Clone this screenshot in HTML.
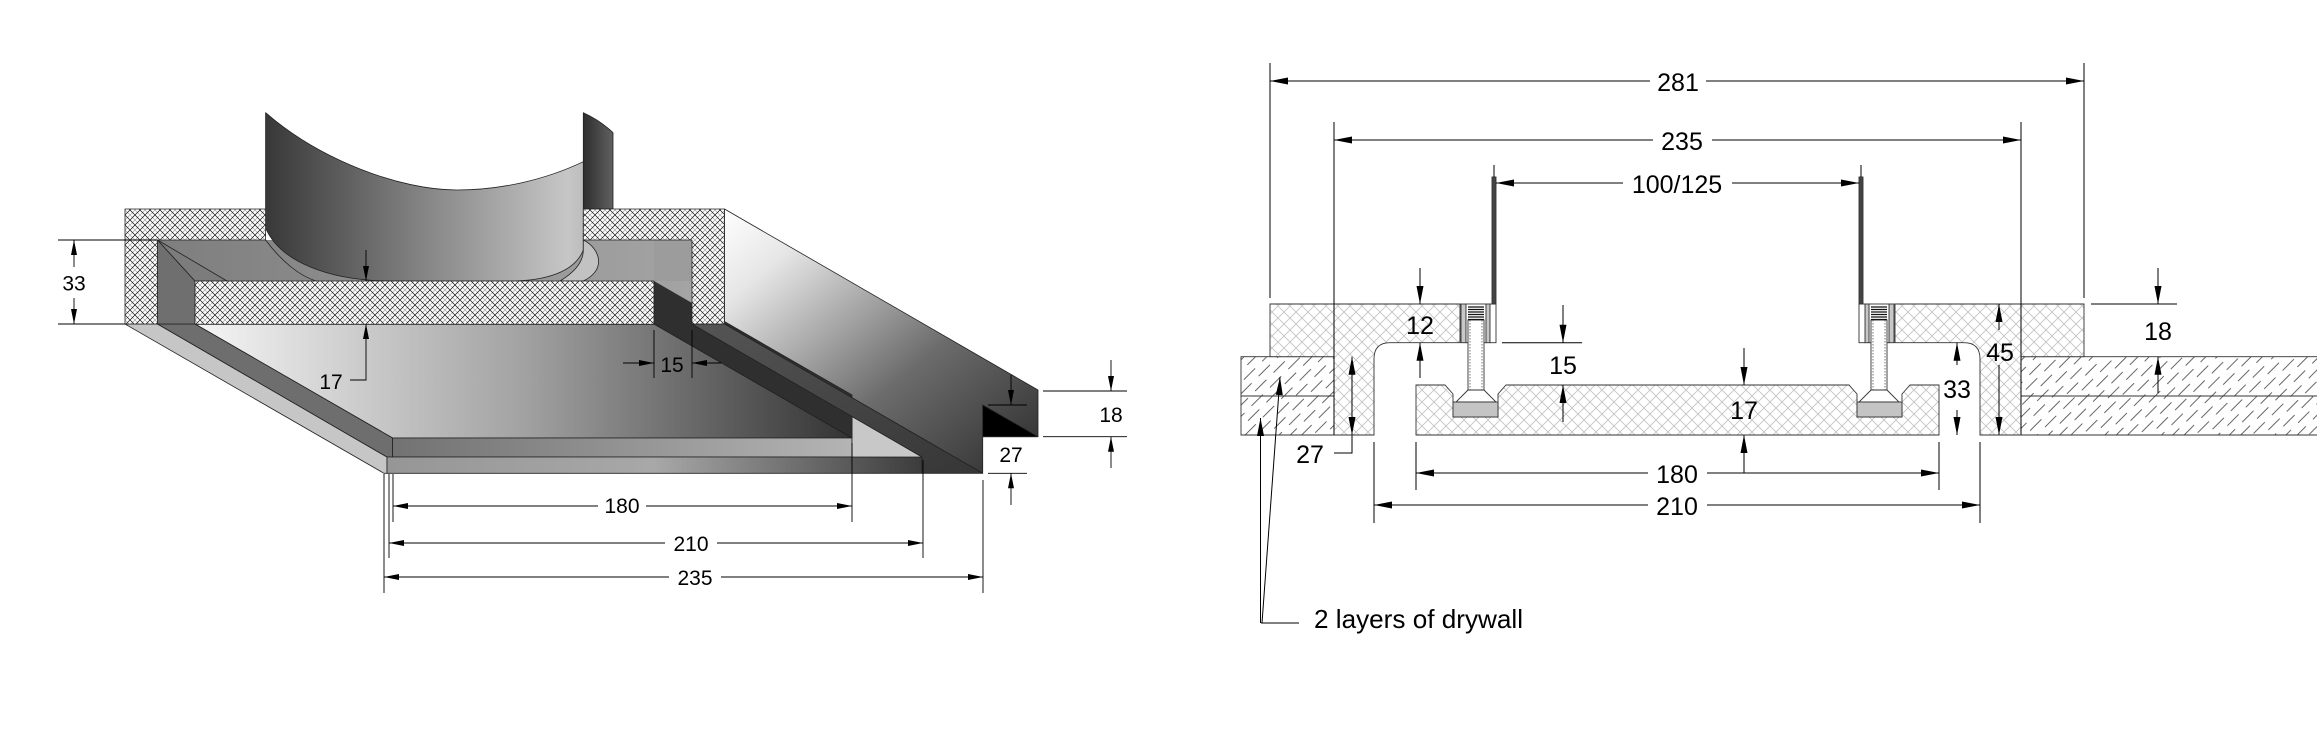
<!DOCTYPE html>
<html><head><meta charset="utf-8"><style>
html,body{margin:0;padding:0;background:#fff;}
svg{display:block;}
text{font-family:"Liberation Sans",Arial,sans-serif;fill:#000;}
</style></head><body>
<svg width="2317" height="731" viewBox="0 0 2317 731" xmlns="http://www.w3.org/2000/svg">
<defs>
<pattern id="hx" width="10" height="10" patternUnits="userSpaceOnUse">
<rect width="10" height="10" fill="#fff"/>
<path d="M0,5L5,10M5,0L10,5M0,5L5,0M5,10L10,5" stroke="#9a9a9a" stroke-width="0.6"/>
<path d="M0,0L10,10M10,0L0,10" stroke="#1a1a1a" stroke-width="0.75"/>
</pattern>
<pattern id="hl" width="12" height="12" patternUnits="userSpaceOnUse">
<rect width="12" height="12" fill="#fff"/>
<path d="M0,0L12,12M12,0L0,12" stroke="#c2c2c2" stroke-width="0.8"/>
</pattern>
<pattern id="dw" width="26" height="16" patternUnits="userSpaceOnUse" patternTransform="rotate(-45)">
<rect x="-1" y="-1" width="28" height="18" fill="#fff"/>
<path d="M0,4H16M13,12H26M0,12H3" stroke="#333" stroke-width="0.8"/>
</pattern>
<linearGradient id="gA" x1="0" y1="0" x2="1" y2="1">
<stop offset="0" stop-color="#ffffff"/><stop offset="0.18" stop-color="#e6e6e6"/><stop offset="0.6" stop-color="#6c6c6c"/><stop offset="1" stop-color="#2c2c2c"/>
</linearGradient>
<linearGradient id="gP" x1="0" y1="0" x2="1" y2="0">
<stop offset="0" stop-color="#f6f6f6"/><stop offset="0.5" stop-color="#a2a2a2"/><stop offset="1" stop-color="#333"/>
</linearGradient>
<linearGradient id="gPipe" x1="0" y1="0" x2="1" y2="0">
<stop offset="0" stop-color="#383838"/><stop offset="0.5" stop-color="#858585"/><stop offset="0.95" stop-color="#c6c6c6"/><stop offset="1" stop-color="#bdbdbd"/>
</linearGradient>
<linearGradient id="gBack" x1="0" y1="0" x2="1" y2="0">
<stop offset="0" stop-color="#2e2e2e"/><stop offset="1" stop-color="#606060"/>
</linearGradient>
<linearGradient id="gS1" x1="0" y1="0" x2="1" y2="0">
<stop offset="0" stop-color="#727272"/><stop offset="1" stop-color="#b4b4b4"/>
</linearGradient>
<linearGradient id="gS2" x1="0" y1="0" x2="1" y2="0">
<stop offset="0" stop-color="#969696"/><stop offset="0.5" stop-color="#a8a8a8"/><stop offset="1" stop-color="#3c3c3c"/>
</linearGradient>
<linearGradient id="gCav" x1="0" y1="0" x2="1" y2="0">
<stop offset="0" stop-color="#7e7e7e"/><stop offset="1" stop-color="#a4a4a4"/>
</linearGradient>
<linearGradient id="gWall" x1="0" y1="0" x2="1" y2="1">
<stop offset="0" stop-color="#555"/><stop offset="1" stop-color="#363636"/>
</linearGradient>
</defs>

<!-- ================= LEFT DRAWING ================= -->
<g stroke="#222" stroke-width="0.8" stroke-linejoin="round">
<polygon points="724.5,209 1038,390 1038,436.7 982.7,436.7 982.7,473.3 724.5,324" fill="url(#gA)"/>
<polygon points="195,324 654,324 852,438 392.6,438" fill="url(#gP)"/>
<polygon points="125,324 157.5,324 387,457 387,473.3 384,473.3" fill="#c6c6c6"/>
<polygon points="157.5,324 195,324 392.6,438 392.6,457 387,457" fill="#6e6e6e"/>
<rect x="392.6" y="438" width="459.4" height="19" fill="url(#gS1)"/>
<rect x="387" y="457" width="535" height="16.3" fill="url(#gS2)"/>
<polygon points="852,416 852,457 922,457" fill="#c8c8c8"/>
<polygon points="654,281 852,395 852,438 654,324" fill="#2f2f2f"/>
<polygon points="692,324 724.5,324 982.7,473.3 922,473.3 922,457" fill="url(#gWall)"/>
<rect x="157.5" y="240" width="534.5" height="84" fill="url(#gCav)" stroke="none"/>
<polygon points="157.5,240 195,281 195,324 157.5,324" fill="#6f6f6f"/>
<polygon points="157.5,240 195,281 227,281" fill="#7c7c7c"/>
<rect x="654" y="240" width="38" height="41" fill="#9c9c9c" stroke="none"/>
<polygon points="654,281 692,303 692,324 654,324" fill="#2f2f2f" stroke="none"/>
<path d="M583.3,112.7 C595,118 605,125 613,132.7 L613,209 L583.3,209 Z" fill="url(#gBack)"/>
<path d="M265.6,112.7 C320,160 400,190 456.7,190 C500,190 545,180 583.3,161.7 L583.3,250 C575,272 545,281 510,281 L392,281 C330,281 280,262 265.6,228 Z" fill="url(#gPipe)"/>
<path d="M583.3,240 C600,248 607,270 583.3,281 L560,281 C575,272 583.3,262 583.3,250 Z" fill="#c2c2c2"/>
<path d="M265.6,240 C282,262 300,276 316,281" fill="none"/>
<path d="M125,209 L265.6,209 L265.6,240 L157.5,240 L157.5,324 L125,324 Z" fill="url(#hx)"/>
<path d="M583.3,209 L724.5,209 L724.5,324 L692,324 L692,240 L583.3,240 Z" fill="url(#hx)"/>
<rect x="195" y="281" width="459" height="43.3" fill="url(#hx)"/>
<polygon points="982.7,405 982.7,436.7 1038,436.7" fill="#000"/>
</g>

<g stroke="#000" stroke-width="0.9" fill="none">
<path d="M58,240H157.5M58,324H125M74,240V267M74,298V324"/>
<path d="M366,250V281M366,324V380H350"/>
<path d="M654,330V378M692,330V378M623,363H654M721,363H692"/>
<path d="M393,474V522M852,443V522M393,506H598M646,506H852"/>
<path d="M389,474V558M923,460V558M389,543H665M717,543H923"/>
<path d="M384,474V593M983,480V593M384,577H669M721,577H983"/>
<path d="M1043,391H1127M1043,436.7H1127M1111,360V391M1111,468V436.7"/>
<path d="M988,405H1027M988,473.3H1027M1011,375V405M1011,505V473.3"/>
</g>
<g fill="#000">
<polygon points="74,240 71,255 77,255"/><polygon points="74,324 71,309 77,309"/>
<polygon points="366,281 363,266 369,266"/><polygon points="366,324 363,339 369,339"/>
<polygon points="654,363 639,360 639,366"/><polygon points="692,363 707,360 707,366"/>
<polygon points="393,506 408,503 408,509"/><polygon points="852,506 837,503 837,509"/>
<polygon points="389,543 404,540 404,546"/><polygon points="923,543 908,540 908,546"/>
<polygon points="384,577 399,574 399,580"/><polygon points="983,577 968,574 968,580"/>
<polygon points="1111,391 1108,376 1114,376"/><polygon points="1111,436.7 1108,451.7 1114,451.7"/>
<polygon points="1011,405 1008,390 1014,390"/><polygon points="1011,473.3 1008,488.3 1014,488.3"/>
</g>
<g font-size="21" text-anchor="middle">
<text x="74" y="290.5">33</text>
<text x="331" y="389">17</text>
<text x="672" y="372">15</text>
<text x="622" y="513">180</text>
<text x="691" y="551">210</text>
<text x="695" y="585">235</text>
<text x="1111" y="422">18</text>
<text x="1011" y="462">27</text>
</g>

<!-- ================= RIGHT DRAWING ================= -->
<g stroke="#333" stroke-width="0.9">
<rect x="1241" y="356.7" width="93" height="78.3" fill="url(#dw)"/>
<line x1="1241" y1="396" x2="1334" y2="396"/>
<rect x="2021" y="356.7" width="300" height="78.3" fill="url(#dw)"/>
<line x1="2021" y1="396" x2="2317" y2="396"/>
<path d="M1270,304 L1460,304 L1460,342.7 L1390,342.7 Q1374,342.7 1374,359 L1374,435 L1334,435 L1334,356.7 L1270,356.7 Z" fill="url(#hl)"/>
<path d="M2084,304 L1895,304 L1895,342.7 L1964,342.7 Q1980,342.7 1980,359 L1980,435 L2021,435 L2021,356.7 L2084,356.7 Z" fill="url(#hl)"/>
<path d="M1416,435 L1416,385 L1445,385 L1453,394 L1453,417 L1498,417 L1498,394 L1506,385 L1849,385 L1857,394 L1857,417 L1902,417 L1902,394 L1910,385 L1939,385 L1939,435 Z" fill="url(#hl)"/>
<rect x="1461" y="304" width="5" height="38.7" fill="#c8c8c8"/>
<rect x="1466" y="304" width="20" height="38.7" fill="#fff"/>
<rect x="1486" y="304" width="4" height="38.7" fill="#c8c8c8"/>
<rect x="1490" y="304" width="6" height="38.7" fill="#fff"/>
<rect x="1468" y="320" width="16" height="70" fill="#fff"/>
<path d="M1468,390 L1456,402 L1496,402 L1484,390 Z" fill="#fff"/>
<rect x="1453" y="402" width="45" height="15" fill="#c4c4c4"/>
<rect x="1492" y="177" width="4" height="127" fill="#444"/>
<rect x="1889" y="304" width="5" height="38.7" fill="#c8c8c8"/>
<rect x="1869" y="304" width="20" height="38.7" fill="#fff"/>
<rect x="1865" y="304" width="4" height="38.7" fill="#c8c8c8"/>
<rect x="1859" y="304" width="6" height="38.7" fill="#fff"/>
<rect x="1871" y="320" width="16" height="70" fill="#fff"/>
<path d="M1887,390 L1899,402 L1859,402 L1871,390 Z" fill="#fff"/>
<rect x="1857" y="402" width="45" height="15" fill="#c4c4c4"/>
<rect x="1859" y="177" width="4" height="127" fill="#444"/>
</g>
<g stroke="#111" stroke-width="1.2">
<path d="M1468,307H1484M1468,309.5H1484M1468,312H1484M1468,314.5H1484M1468,317H1484M1468,319.5H1484"/>
<path d="M1871,307H1887M1871,309.5H1887M1871,312H1887M1871,314.5H1887M1871,317H1887M1871,319.5H1887"/>
</g>
<g stroke="#555" stroke-width="0.8" stroke-dasharray="1.5,1.5">
<path d="M1470,320V390M1482,320V390M1873,320V390M1885,320V390"/>
</g>

<g stroke="#000" stroke-width="1" fill="none">
<path d="M1270,63V298M2084,63V298M1270,81H1650M1706,81H2084"/>
<path d="M1334,122V435M2021,122V435M1334,140H1653M1712,140H2021"/>
<path d="M1494,165V177M1861,165V177M1496,183H1623M1732,183H1859"/>
<path d="M1420,268V304M1420,378V342.7"/>
<path d="M1502,342.7H1582M1563,305V342.7M1563,422V385"/>
<path d="M1744,348V385M1744,473V435"/>
<path d="M2091,304H2177M2158,268V304M2158,393V356.7"/>
<path d="M1957,365V342.7M1957,410V435"/>
<path d="M1999,330V304M1999,365V435"/>
<path d="M1352,356.7V453H1334"/>
<path d="M1416,442V490M1939,442V490M1416,473H1648M1707,473H1939"/>
<path d="M1374,442V523M1980,442V523M1374,505H1648M1707,505H1980"/>
<path d="M1241,435H1374M1416,435H1939M1980,435H2317" stroke="#333" stroke-width="0.9"/>
<path d="M1260.5,418V623M1280,377L1262,623M1261,623H1299"/>
</g>
<g fill="#000">
<polygon points="1270,81 1288,77.5 1288,84.5"/><polygon points="2084,81 2066,77.5 2066,84.5"/>
<polygon points="1334,140 1352,136.5 1352,143.5"/><polygon points="2021,140 2003,136.5 2003,143.5"/>
<polygon points="1496,183 1514,179.5 1514,186.5"/><polygon points="1859,183 1841,179.5 1841,186.5"/>
<polygon points="1420,304 1416.5,286 1423.5,286"/><polygon points="1420,342.7 1416.5,360.7 1423.5,360.7"/>
<polygon points="1563,342.7 1559.5,324.7 1566.5,324.7"/><polygon points="1563,385 1559.5,403 1566.5,403"/>
<polygon points="1744,385 1740.5,367 1747.5,367"/><polygon points="1744,435 1740.5,453 1747.5,453"/>
<polygon points="2158,304 2154.5,286 2161.5,286"/><polygon points="2158,356.7 2154.5,374.7 2161.5,374.7"/>
<polygon points="1957,342.7 1953.5,360.7 1960.5,360.7"/><polygon points="1957,435 1953.5,417 1960.5,417"/>
<polygon points="1999,304 1995.5,322 2002.5,322"/><polygon points="1999,435 1995.5,417 2002.5,417"/>
<polygon points="1352,356.7 1348.5,374.7 1355.5,374.7"/><polygon points="1352,435 1348.5,417 1355.5,417"/>
<polygon points="1416,473 1434,469.5 1434,476.5"/><polygon points="1939,473 1921,469.5 1921,476.5"/>
<polygon points="1374,505 1392,501.5 1392,508.5"/><polygon points="1980,505 1962,501.5 1962,508.5"/>
<polygon points="1260.5,418 1257,436 1264,436"/><polygon points="1280,377 1275.8,394.8 1282.8,395.3"/>
</g>
<g font-size="25" text-anchor="middle">
<text x="1678" y="91">281</text>
<text x="1682" y="150">235</text>
<text x="1677" y="193">100/125</text>
<text x="1420" y="334">12</text>
<text x="1563" y="374">15</text>
<text x="1744" y="419">17</text>
<text x="1957" y="398">33</text>
<text x="2000" y="361">45</text>
<text x="2158" y="340">18</text>
<text x="1310" y="463">27</text>
<text x="1677" y="483">180</text>
<text x="1677" y="515">210</text>
</g>
<text x="1314" y="628" font-size="26" textLength="209" lengthAdjust="spacingAndGlyphs">2 layers of drywall</text>
</svg>
</body></html>
